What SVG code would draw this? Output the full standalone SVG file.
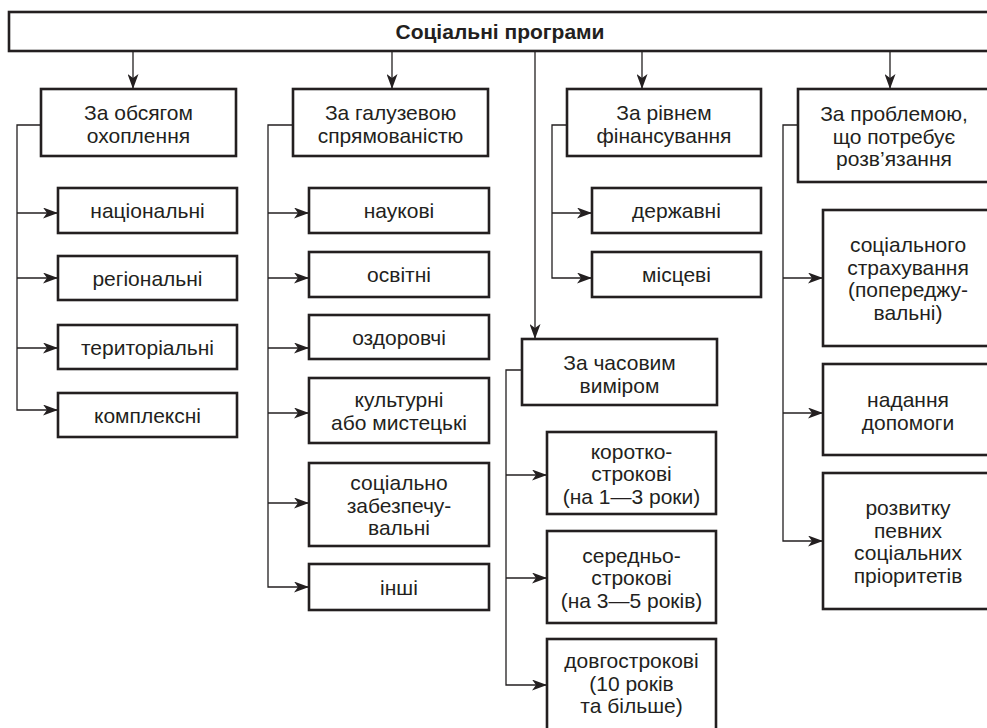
<svg xmlns="http://www.w3.org/2000/svg" width="987" height="728" viewBox="0 0 987 728">
<style>
.box{fill:#fff;stroke:#231f20;stroke-width:2.6}
.c{fill:none;stroke:#231f20;stroke-width:1.3}
text{font-family:"Liberation Sans",Arial,sans-serif;font-size:21px;fill:#231f20;text-anchor:middle}
.title{font-weight:bold;font-size:21px}
</style>
<defs>
<marker id="ah" markerUnits="userSpaceOnUse" markerWidth="15" markerHeight="11" refX="15" refY="5.5" orient="auto" viewBox="0 0 15 11">
<path d="M0,0 L15,5.5 L0,11 L4,5.5 Z" fill="#231f20"/>
</marker>
</defs>
<rect width="987" height="728" fill="#fff"/>

<g id="connectors">
<line class="c" x1="133" y1="51" x2="133" y2="89" marker-end="url(#ah)"/>
<line class="c" x1="392" y1="51" x2="392" y2="89" marker-end="url(#ah)"/>
<line class="c" x1="642" y1="51" x2="642" y2="89" marker-end="url(#ah)"/>
<line class="c" x1="890" y1="51" x2="890" y2="89" marker-end="url(#ah)"/>
<line class="c" x1="535" y1="51" x2="535" y2="339" marker-end="url(#ah)"/>

<path class="c" d="M41,125 H17 V410 H58" marker-end="url(#ah)"/>
<line class="c" x1="17" y1="213" x2="58" y2="213" marker-end="url(#ah)"/>
<line class="c" x1="17" y1="278" x2="58" y2="278" marker-end="url(#ah)"/>
<line class="c" x1="17" y1="348" x2="58" y2="348" marker-end="url(#ah)"/>

<path class="c" d="M293,125 H268 V587 H309" marker-end="url(#ah)"/>
<line class="c" x1="268" y1="213" x2="309" y2="213" marker-end="url(#ah)"/>
<line class="c" x1="268" y1="278" x2="309" y2="278" marker-end="url(#ah)"/>
<line class="c" x1="268" y1="348" x2="309" y2="348" marker-end="url(#ah)"/>
<line class="c" x1="268" y1="413" x2="309" y2="413" marker-end="url(#ah)"/>
<line class="c" x1="268" y1="503" x2="309" y2="503" marker-end="url(#ah)"/>

<path class="c" d="M567,125 H552 V278 H592" marker-end="url(#ah)"/>
<line class="c" x1="552" y1="213" x2="592" y2="213" marker-end="url(#ah)"/>

<path class="c" d="M522,370 H506 V685 H547" marker-end="url(#ah)"/>
<line class="c" x1="506" y1="475" x2="547" y2="475" marker-end="url(#ah)"/>
<line class="c" x1="506" y1="578" x2="547" y2="578" marker-end="url(#ah)"/>

<path class="c" d="M798,125 H783 V541 H823" marker-end="url(#ah)"/>
<line class="c" x1="783" y1="278" x2="823" y2="278" marker-end="url(#ah)"/>
<line class="c" x1="783" y1="413" x2="823" y2="413" marker-end="url(#ah)"/>
</g>

<g id="root">
<rect class="box" x="9" y="12" width="990" height="39"/>
<text class="title" x="500" y="39">Соціальні програми</text>
</g>

<g id="col1-header">
<rect class="box" x="41" y="89" width="195" height="67"/>
<text x="138.5" y="120">За обсягом</text>
<text x="138.5" y="142.5">охоплення</text>
</g>
<g id="nat"><rect class="box" x="58" y="188" width="179" height="45"/><text x="147.5" y="218">національні</text></g>
<g id="reg"><rect class="box" x="58" y="256" width="179" height="44"/><text x="147.5" y="285.5">регіональні</text></g>
<g id="ter"><rect class="box" x="58" y="325" width="179" height="44"/><text x="147.5" y="354.5">територіальні</text></g>
<g id="kom"><rect class="box" x="58" y="393" width="179" height="44"/><text x="147.5" y="422.5">комплексні</text></g>

<g id="col2-header">
<rect class="box" x="293" y="89" width="195" height="67"/>
<text x="390.5" y="120">За галузевою</text>
<text x="390.5" y="142.5">спрямованістю</text>
</g>
<g id="nauk"><rect class="box" x="309" y="188" width="180" height="45"/><text x="399" y="218">наукові</text></g>
<g id="osv"><rect class="box" x="309" y="252" width="180" height="45"/><text x="399" y="282">освітні</text></g>
<g id="ozd"><rect class="box" x="309" y="315" width="180" height="44"/><text x="399" y="344.5">оздоровчі</text></g>
<g id="kult"><rect class="box" x="309" y="378" width="180" height="65"/><text x="399" y="407">культурні</text><text x="399" y="430">або мистецькі</text></g>
<g id="soc"><rect class="box" x="309" y="463" width="180" height="83"/><text x="399" y="490">соціально</text><text x="399" y="512.5">забезпечу-</text><text x="399" y="535">вальні</text></g>
<g id="inshi"><rect class="box" x="309" y="564" width="180" height="46"/><text x="399" y="594.5">інші</text></g>

<g id="col3-header">
<rect class="box" x="567" y="89" width="194" height="67"/>
<text x="664" y="120">За рівнем</text>
<text x="664" y="142.5">фінансування</text>
</g>
<g id="derzh"><rect class="box" x="592" y="188" width="169" height="45"/><text x="676.5" y="218">державні</text></g>
<g id="misc"><rect class="box" x="592" y="252" width="169" height="45"/><text x="676.5" y="282">місцеві</text></g>

<g id="time-header">
<rect class="box" x="522" y="339" width="195" height="66"/>
<text x="619.5" y="370">За часовим</text>
<text x="619.5" y="392.5">виміром</text>
</g>
<g id="short"><rect class="box" x="547" y="432" width="169" height="82"/><text x="631.5" y="458.5">коротко-</text><text x="631.5" y="481">строкові</text><text x="631.5" y="503.5">(на 1—3 роки)</text></g>
<g id="mid"><rect class="box" x="547" y="531" width="169" height="92"/><text x="631.5" y="562.5">середньо-</text><text x="631.5" y="585">строкові</text><text x="631.5" y="607.5">(на 3—5 років)</text></g>
<g id="long"><rect class="box" x="547" y="639" width="169" height="95"/><text x="631.5" y="668">довгострокові</text><text x="631.5" y="690.5">(10 років</text><text x="631.5" y="713">та більше)</text></g>

<g id="col4-header">
<rect class="box" x="798" y="89" width="195" height="93"/>
<text x="894" y="121">За проблемою,</text>
<text x="894" y="143.5">що потребує</text>
<text x="894" y="166">розв’язання</text>
</g>
<g id="strakh"><rect class="box" x="823" y="210" width="172" height="136"/><text x="908" y="252">соціального</text><text x="908" y="274.5">страхування</text><text x="908" y="297">(попереджу-</text><text x="908" y="319.5">вальні)</text></g>
<g id="dopom"><rect class="box" x="823" y="364" width="172" height="91"/><text x="908" y="407">надання</text><text x="908" y="429.5">допомоги</text></g>
<g id="rozv"><rect class="box" x="823" y="473" width="172" height="136"/><text x="908" y="515">розвитку</text><text x="908" y="537.5">певних</text><text x="908" y="560">соціальних</text><text x="908" y="582.5">пріоритетів</text></g>
</svg>
